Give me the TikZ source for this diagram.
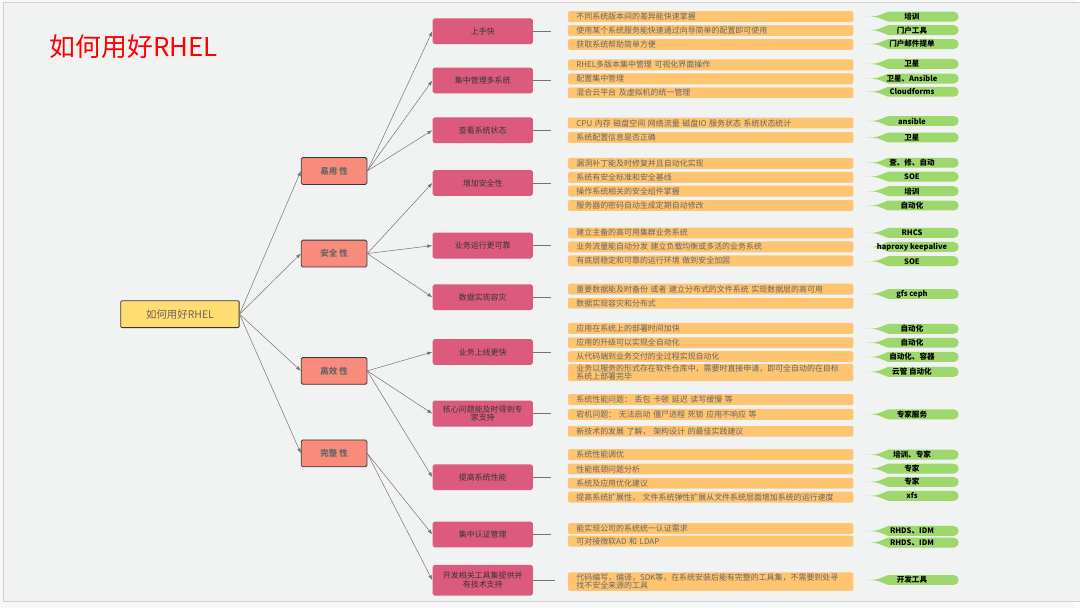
\documentclass[tikz,border=0pt]{standalone}
\usepackage{fontspec}
\setmainfont{Noto Sans CJK SC}
\usetikzlibrary{positioning,arrows.meta}
\definecolor{outside}{HTML}{F7F7F7}
\definecolor{paper}{HTML}{F1F2F2}
\definecolor{frame}{HTML}{D0D0D0}
\definecolor{gold}{HTML}{FFDD70}
\definecolor{salmon}{HTML}{F98B7C}
\definecolor{rose}{HTML}{DB5A7E}
\definecolor{peach}{HTML}{FFC46F}
\definecolor{leafg}{HTML}{9ED86D}
\definecolor{ink}{HTML}{363636}
\definecolor{dim}{HTML}{666666}
\definecolor{wire}{HTML}{747474}

\begin{document}
\begin{tikzpicture}[x=1pt,y=-1pt,
  font=\fontsize{8}{8.6}\selectfont,
  root/.style={draw=ink,line width=0.8pt,fill=gold,rounded corners=1pt,minimum width=119pt,minimum height=27pt,
               inner sep=0pt,text=dim,font=\fontsize{10.5}{11}\selectfont},
  top/.style={draw=ink,line width=0.8pt,fill=salmon,rounded corners=1.5pt,minimum width=66pt,minimum height=27pt,
              inner sep=0pt,text=dim,font=\fontsize{8.5}{9}\selectfont\bfseries},
  sub/.style={fill=rose,rounded corners=2pt,minimum width=101pt,minimum height=26pt,inner sep=0pt,
              align=center,text=ink,font=\fontsize{8}{8.6}\selectfont},
  leaf/.style={fill=peach,rounded corners=1.5pt,anchor=west,text width=270pt,inner xsep=8.5pt,inner ysep=0.5pt,
               minimum height=11pt,align=left,text=dim},
  tag/.style={minimum width=94pt,minimum height=10pt,inner sep=0pt,anchor=west,font=\fontsize{7.6}{8}\selectfont\bfseries,
              path picture={\fill[leafg] ([xshift=23pt]path picture bounding box.north west)
                -- ([xshift=-5pt]path picture bounding box.north east) arc[start angle=-90,end angle=90,radius=5]
                -- ([xshift=23pt]path picture bounding box.south west)
                .. controls ([xshift=11pt]path picture bounding box.west) .. (path picture bounding box.west)
                .. controls ([xshift=11pt]path picture bounding box.west) .. ([xshift=23pt]path picture bounding box.north west)
                -- cycle;}},
  a/.style={-{Latex[length=5pt,width=3.6pt]},draw=wire,line width=0.5pt},
  stub/.style={draw=wire,line width=0.6pt}]
\fill[outside] (0,0) rectangle (1080,611);
\draw[frame,fill=paper] (3,2) rectangle (1086,605);
\useasboundingbox (0,0) rectangle (1080,611);

\node[anchor=west,inner sep=0pt,text=red,font=\fontsize{26}{28}\selectfont] (title) at (50,47) {如何用好RHEL};

% root and the four qualities
\node[root] (rhel) at (181,316) {如何用好RHEL};
\node[top] (ease) at (336,172) {易用 性};
\node[top] (safe) at (336,255) {安全 性};
\node[top] (fast) at (336,373) {高效 性};
\node[top] (whole) at (336,456) {完整 性};
\draw[a] (rhel.east)--(ease.west); \draw[a] (rhel.east)--(safe.west);
\draw[a] (rhel.east)--(fast.west); \draw[a] (rhel.east)--(whole.west);

% goals
\node[sub] (s1) at (485.5,31.5) {上手快};
\node[sub] (s2) at (485.5,81) {集中管理多系统};
\node[sub] (s3) at (485.5,131) {查看系统状态};
\node[sub] (s4) at (485.5,184) {增加安全性};
\node[sub] (s5) at (485.5,247) {业务运行更可靠};
\node[sub] (s6) at (485.5,299) {数据实现容灾};
\node[sub] (s7) at (485.5,354) {业务上线更快};
\node[sub] (s8) at (485.5,416) {核心问题能及时得到专\\家支持};
\node[sub] (s9) at (485.5,480) {提高系统性能};
\node[sub] (s10) at (485.5,537.5) {集中认证管理};
\node[sub,minimum height=31pt] (s11) at (485.5,583.5) {开发相关工具集提供并\\有技术支持};
\draw[a] (ease.east)--(s1.west); \draw[a] (ease.east)--(s2.west); \draw[a] (ease.east)--(s3.west);
\draw[a] (safe.east)--(s4.west); \draw[a] (safe.east)--(s5.west); \draw[a] (safe.east)--(s6.west);
\draw[a] (fast.east)--(s7.west); \draw[a] (fast.east)--(s8.west); \draw[a] (fast.east)--(s9.west);
\draw[a] (whole.east)--(s10.west); \draw[a] (whole.east)--(s11.west);
\draw[stub] (s1.east)--([xshift=18pt]s1.east); \draw[stub] (s2.east)--([xshift=18pt]s2.east);
\draw[stub] (s3.east)--([xshift=18pt]s3.east); \draw[stub] (s4.east)--([xshift=18pt]s4.east);
\draw[stub] (s5.east)--([xshift=18pt]s5.east); \draw[stub] (s6.east)--([xshift=18pt]s6.east);
\draw[stub] (s7.east)--([xshift=18pt]s7.east); \draw[stub] (s8.east)--([xshift=18pt]s8.east);
\draw[stub] (s9.east)--([xshift=18pt]s9.east); \draw[stub] (s10.east)--([xshift=18pt]s10.east);
\draw[stub] (s11.east)--([xshift=22pt]s11.east);

% details
\node[leaf] (l1a) at (571,16.7) {不同系统版本间的差异能快速掌握};
\node[leaf] (l1b) at (571,30.7) {使用某个系统服务能快速通过向导简单的配置即可使用};
\node[leaf] (l1c) at (571,44.7) {获取系统帮助简单方便};
\node[leaf] (l2a) at (571,65.3) {RHEL多版本集中管理 可视化界面操作};
\node[leaf] (l2b) at (571,79.3) {配置集中管理};
\node[leaf] (l2c) at (571,93.3) {混合云平台 及虚拟机的统一管理};
\node[leaf] (l3a) at (571,123.7) {CPU 内存 磁盘空间 网络流量 磁盘IO 服务状态 系统状态统计};
\node[leaf] (l3b) at (571,138.3) {系统配置信息是否正确};
\node[leaf] (l4a) at (571,164.3) {漏洞补丁能及时修复并且自动化实现};
\node[leaf] (l4b) at (571,178.3) {系统有安全标准和安全基线};
\node[leaf] (l4c) at (571,192.3) {操作系统相关的安全组件掌握};
\node[leaf] (l4d) at (571,206.7) {服务器的密码自动生成定期自动修改};
\node[leaf] (l5a) at (571,234.3) {建立主备的高可用集群业务系统};
\node[leaf] (l5b) at (571,248.3) {业务流量能自动分发 建立负载均衡或多活的业务系统};
\node[leaf] (l5c) at (571,262.3) {有底层稳定和可靠的运行环境 做到安全加固};
\node[leaf] (l6a) at (571,290.7) {重要数据能及时备份 或者 建立分布式的文件系统 实现数据层的高可用};
\node[leaf] (l6b) at (571,305) {数据实现容灾和分布式};
\node[leaf] (l7a) at (571,330.3) {应用在系统上的部署时间加快};
\node[leaf] (l7b) at (571,344.7) {应用的升级可以实现全自动化};
\node[leaf] (l7c) at (571,358.7) {从代码端到业务交付的全过程实现自动化};
\node[leaf,font=\fontsize{8}{7.6}\selectfont] (l7d) at (571,374.7) {业务以服务的形式存在软件仓库中，需要时直接申请，即可全自动的在目标\\系统上部署完毕};
\node[leaf] (l8a) at (571,402) {系统性能问题： 丢包 卡顿 延迟 读写缓慢 等};
\node[leaf] (l8b) at (571,416.7) {宕机问题： 无法启动 僵尸进程 死锁 应用不响应 等};
\node[leaf] (l8c) at (571,433.7) {新技术的发展 了解， 架构设计 的最佳实践建议};
\node[leaf] (l9a) at (571,457.3) {系统性能调优};
\node[leaf] (l9b) at (571,471.7) {性能瓶颈问题分析};
\node[leaf] (l9c) at (571,486) {系统及应用优化建议};
\node[leaf] (l9d) at (571,500) {提高系统扩展性， 文件系统弹性扩展从文件系统层面增加系统的运行速度};
\node[leaf] (l10a) at (571,531.7) {能实现公司的系统统一认证需求};
\node[leaf] (l10b) at (571,544.3) {可对接微软AD 和 LDAP};
\node[leaf,font=\fontsize{8}{8.2}\selectfont,inner ysep=1.5pt] (l11a) at (571,585) {代码编写，编译，SDK等，在系统安装后能有完整的工具集，不需要到处寻\\找不安全来源的工具};

% who delivers it
\node[tag] (t1a) at (870,16.7) {培训};
\node[tag] (t1b) at (870,30.3) {门户工具};
\node[tag] (t1c) at (870,44.3) {门户邮件提单};
\node[tag] (t2a) at (870,64.3) {卫星};
\node[tag] (t2b) at (870,79) {卫星、Ansible};
\node[tag] (t2c) at (870,92.3) {Cloudforms};
\node[tag] (t3a) at (870,121.7) {ansible};
\node[tag] (t3b) at (870,138.3) {卫星};
\node[tag] (t4a) at (870,163.7) {查、修、自动};
\node[tag] (t4b) at (870,177.7) {SOE};
\node[tag] (t4c) at (870,192.3) {培训};
\node[tag] (t4d) at (870,206.7) {自动化};
\node[tag] (t5a) at (870,234.3) {RHCS};
\node[tag] (t5b) at (870,248.3) {haproxy keepalive};
\node[tag] (t5c) at (870,262.7) {SOE};
\node[tag] (t6a) at (870,295.7) {gfs ceph};
\node[tag] (t7a) at (870,330.7) {自动化};
\node[tag] (t7b) at (870,344.7) {自动化};
\node[tag] (t7c) at (870,359) {自动化、容器};
\node[tag] (t7d) at (870,374) {云管 自动化};
\node[tag] (t8b) at (870,416.7) {专家服务};
\node[tag] (t9a) at (870,457.3) {培训、专家};
\node[tag] (t9b) at (870,471.3) {专家};
\node[tag] (t9c) at (870,484.7) {专家};
\node[tag] (t9d) at (870,498.7) {xfs};
\node[tag] (t10a) at (870,534) {RHDS、IDM};
\node[tag] (t10b) at (870,545.7) {RHDS、IDM};
\node[tag] (t11a) at (870,583.3) {开发工具};
\end{tikzpicture}
\end{document}
